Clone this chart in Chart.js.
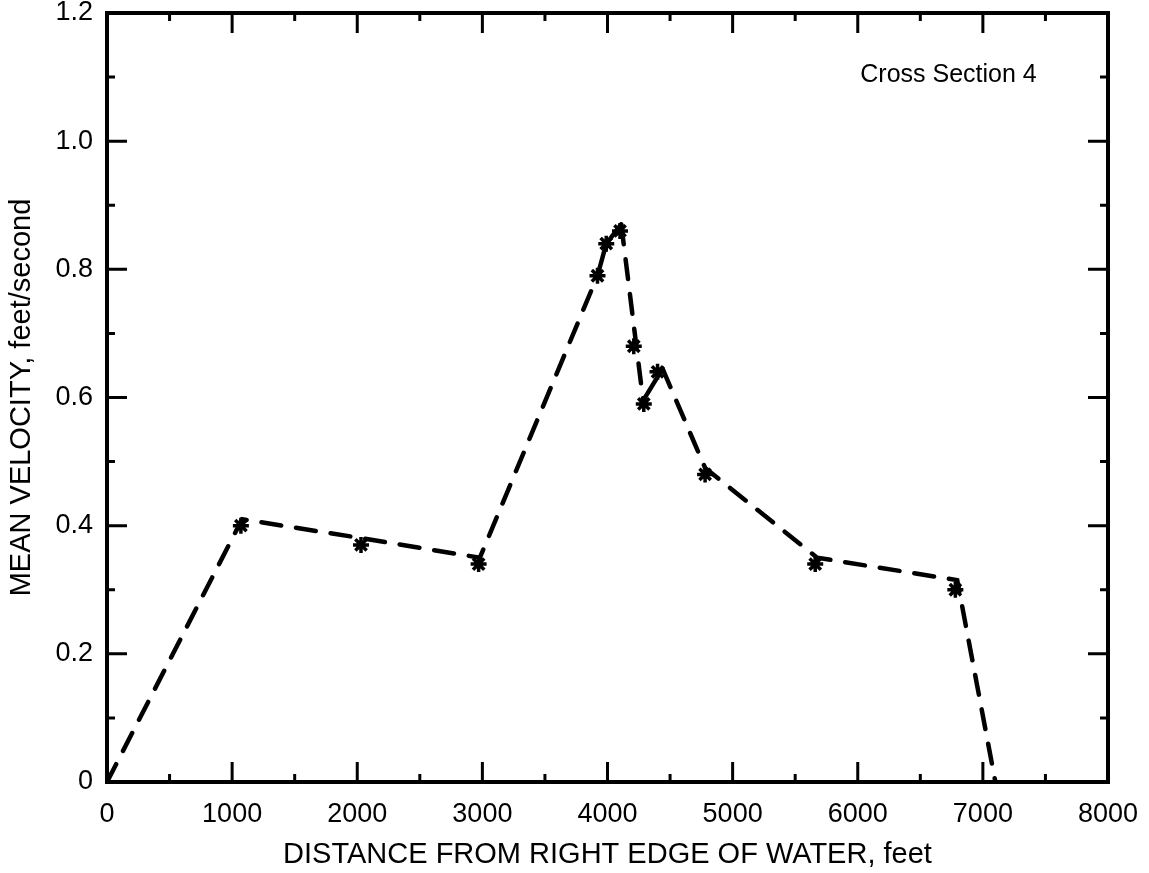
<!DOCTYPE html>
<html>
<head>
<meta charset="utf-8">
<script src="https://cdn.jsdelivr.net/npm/chart.js@4/dist/chart.umd.min.js"></script>
<style>
  html, body { margin: 0; padding: 0; background: #fff; }
  #wrap { width: 1149px; height: 873px; }
</style>
</head>
<body>
<div id="wrap"><canvas id="chart"></canvas></div>
<script>
// distance from right edge of water (feet) and mean velocity (ft/s)
const curveDistance = [0, 1080, 2050, 2980, 3920, 3990, 4110, 4285, 4440, 4780, 5675, 6795, 7100];
const curveVelocity = [0, 0.41, 0.38, 0.35, 0.79, 0.84, 0.87, 0.595, 0.645, 0.49, 0.35, 0.315, 0];

const measuredDistance = [1070, 2030, 2970, 3920, 3990, 4100, 4210, 4290, 4400, 4780, 5660, 6780];
const measuredVelocity = [0.40, 0.37, 0.34, 0.79, 0.84, 0.86, 0.68, 0.59, 0.64, 0.48, 0.34, 0.30];

const xTicks = [0, 1000, 2000, 3000, 4000, 5000, 6000, 7000, 8000];
const yTicks = [0, 0.2, 0.4, 0.6, 0.8, 1.0, 1.2];

const solidSegments = [4, 5, 7];
const FONT = '"Liberation Sans", Arial, sans-serif';

const toXY = (xs, ys) => xs.map((x, i) => ({ x: x, y: ys[i] }));

// frame box with inward ticks on all four sides
const frame = {
    id: 'frame',
    afterDraw(chart) {
        const c = chart.ctx;
        const a = chart.chartArea;
        const xs = chart.scales.x, ys = chart.scales.y;
        c.save();
        c.strokeStyle = '#000';
        c.lineCap = 'butt';
        c.lineWidth = 3;
        for (let v = 0; v <= 8000; v += 500) {
            const px = xs.getPixelForValue(v);
            const len = v % 1000 === 0 ? 20 : 8;
            c.beginPath();
            c.moveTo(px, a.bottom); c.lineTo(px, a.bottom - len);
            c.moveTo(px, a.top); c.lineTo(px, a.top + len);
            c.stroke();
        }
        for (let i = 0; i <= 12; i++) {
            const py = ys.getPixelForValue(i / 10);
            const len = i % 2 === 0 ? 20 : 8;
            c.beginPath();
            c.moveTo(a.left, py); c.lineTo(a.left + len, py);
            c.moveTo(a.right, py); c.lineTo(a.right - len, py);
            c.stroke();
        }
        c.lineWidth = 4;
        c.strokeRect(a.left, a.top, a.right - a.left, a.bottom - a.top);

        c.fillStyle = '#000';
        c.font = '25px ' + FONT;
        c.textAlign = 'left';
        c.textBaseline = 'alphabetic';
        c.fillText('Cross Section 4', xs.getPixelForValue(6020), ys.getPixelForValue(1.092));
        c.restore();
    }
};

new Chart(document.getElementById('chart'), {
    type: 'scatter',
    data: {
        datasets: [{
            label: 'curve',
            data: toXY(curveDistance, curveVelocity),
            showLine: true,
            borderColor: '#000',
            borderWidth: 4.5,
            borderDash: [20, 15],
            borderCapStyle: 'round',
            pointRadius: 0,
            segment: {
                borderDash: ctx => solidSegments.includes(ctx.p0DataIndex) ? [] : [20, 15]
            }
        }, {
            label: 'measured',
            data: toXY(measuredDistance, measuredVelocity),
            showLine: false,
            pointStyle: 'star',
            pointRadius: 8,
            pointBorderWidth: 3.5,
            pointBorderColor: '#000',
            pointBackgroundColor: '#000'
        }]
    },
    options: {
        responsive: true,
        maintainAspectRatio: false,
        animation: false,
        layout: { padding: { top: 13, right: 41, bottom: 0, left: 0 } },
        plugins: { legend: { display: false }, tooltip: { enabled: false } },
        scales: {
            x: {
                type: 'linear',
                min: 0, max: 8000,
                afterBuildTicks: s => { s.ticks = xTicks.map(v => ({ value: v })); },
                afterFit: s => { s.height = 91; s.paddingLeft = 0; s.paddingRight = 0; },
                grid: { display: false, drawTicks: false },
                border: { display: false },
                ticks: {
                    color: '#000', padding: 16, font: { family: FONT, size: 27 }, maxRotation: 0,
                    callback: v => String(v)
                },
                title: {
                    display: true,
                    text: 'DISTANCE FROM RIGHT EDGE OF WATER, feet',
                    color: '#000',
                    font: { family: FONT, size: 29 },
                    padding: { top: 0, bottom: 1 }
                }
            },
            y: {
                type: 'linear',
                min: 0, max: 1.2,
                afterBuildTicks: s => { s.ticks = yTicks.map(v => ({ value: v })); },
                afterFit: s => { s.width = 107; s.paddingTop = 0; s.paddingBottom = 0; },
                grid: { display: false, drawTicks: false },
                border: { display: false },
                ticks: {
                    color: '#000', padding: 14, font: { family: FONT, size: 27 },
                    callback: v => v === 0 ? '0' : v.toFixed(1)
                },
                title: {
                    display: true,
                    text: 'MEAN VELOCITY, feet/second',
                    color: '#000',
                    font: { family: FONT, size: 29 },
                    padding: { top: 5, bottom: 0 }
                }
            }
        }
    },
    plugins: [frame]
});
</script>
</body>
</html>
